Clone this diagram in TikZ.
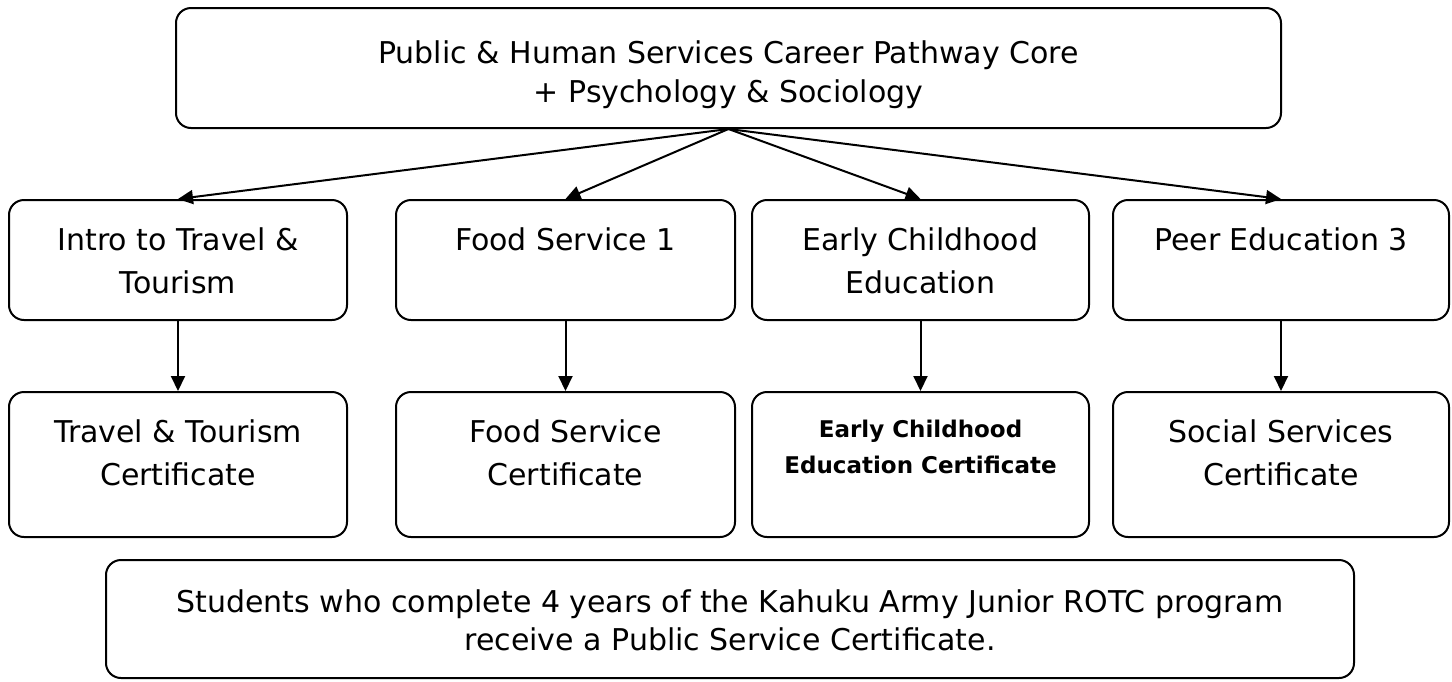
\documentclass[tikz,border=0pt]{standalone}
\usepackage{fontspec}
\setmainfont{DejaVu Sans}
\usetikzlibrary{arrows.meta}
\begin{document}
\begin{tikzpicture}[x=0.5pt,y=-0.5pt,
  box/.style={draw,line width=1pt,rounded corners=7.5pt,inner sep=0pt},
  txt/.style={anchor=base,align=center,inner sep=0pt,font=\fontsize{15pt}{21.5pt}\selectfont},
  boldtxt/.style={anchor=base,align=center,inner sep=0pt,font=\fontsize{11.5pt}{18pt}\selectfont\bfseries},
  arr/.style={-{Triangle[length=7.5pt,width=7pt]},line width=1pt}]
\useasboundingbox (0,0) rectangle (1452,681);
% boxes
\node[box,minimum width=552.5pt,minimum height=60pt] (T) at (728.5,68) {};
\node[box,minimum width=169pt,minimum height=60pt] (M1) at (178,260) {};
\node[box,minimum width=169.5pt,minimum height=60pt] (M2) at (565.5,260) {};
\node[box,minimum width=168.5pt,minimum height=60pt] (M3) at (920.5,260) {};
\node[box,minimum width=168pt,minimum height=60pt] (M4) at (1281,260) {};
\node[box,minimum width=169pt,minimum height=72.5pt] (C1) at (178,464.5) {};
\node[box,minimum width=169.5pt,minimum height=72.5pt] (C2) at (565.5,464.5) {};
\node[box,minimum width=168.5pt,minimum height=72.5pt] (C3) at (920.5,464.5) {};
\node[box,minimum width=168pt,minimum height=72.5pt] (C4) at (1281,464.5) {};
\node[box,minimum width=624pt,minimum height=59pt] (B) at (730,619) {};
% texts (anchor base = baseline of last line)
\node[txt,font=\fontsize{15pt}{19.5pt}\selectfont] (tT) at (728.5,102) {Public \& Human Services Career Pathway Core\\+ Psychology \& Sociology};
\node[txt] (tM1) at (178,293) {Intro to Travel \&\\Tourism};
\node[txt] (tM2) at (565.5,250) {Food Service 1};
\node[txt] (tM3) at (920.5,293) {Early Childhood\\Education};
\node[txt] (tM4) at (1281,250) {Peer Education 3};
\node[txt] (tC1) at (178,485) {Travel \& Tourism\\Certificate};
\node[txt] (tC2) at (565.5,485) {Food Service\\Certificate};
\node[boldtxt] (tC3) at (920.5,473) {Early Childhood\\Education Certificate};
\node[txt] (tC4) at (1281,485) {Social Services\\Certificate};
\node[txt,font=\fontsize{15pt}{19pt}\selectfont] (tB) at (730,650) {Students who complete 4 years of the Kahuku Army Junior ROTC program\\receive a Public Service Certificate.};
% connectors
\draw[arr] (T.south) -- (M1.north);
\draw[arr] (T.south) -- (M2.north);
\draw[arr] (T.south) -- (M3.north);
\draw[arr] (T.south) -- (M4.north);
\draw[arr] (M1.south) -- (C1.north);
\draw[arr] (M2.south) -- (C2.north);
\draw[arr] (M3.south) -- (C3.north);
\draw[arr] (M4.south) -- (C4.north);
\end{tikzpicture}
\end{document}
